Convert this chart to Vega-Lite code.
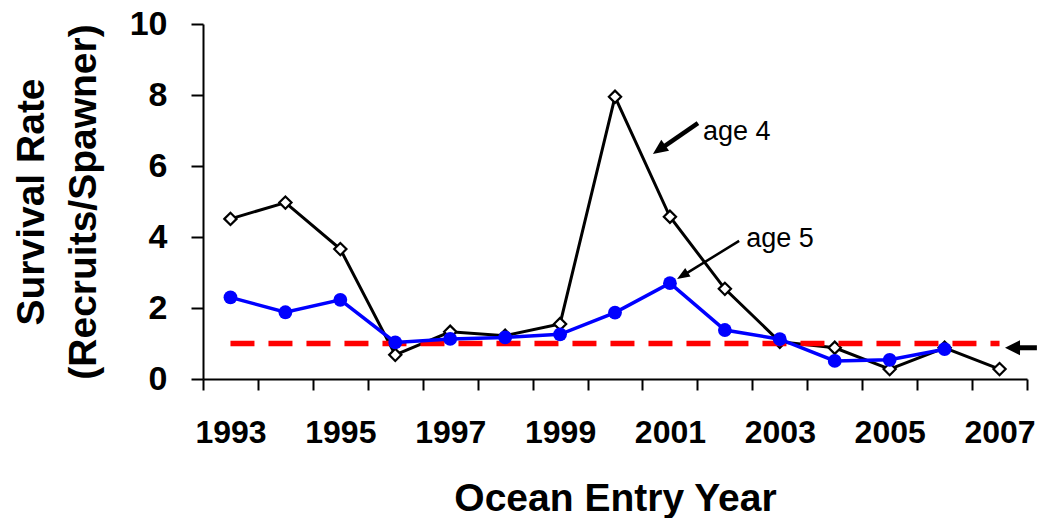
{
  "$schema": "https://vega.github.io/schema/vega-lite/v6.json",
  "autosize": {"type": "none"},
  "width": 824,
  "height": 355,
  "padding": {"left": 203, "top": 24, "right": 10, "bottom": 139},
  "background": "white",
  "config": {"view": {"stroke": null}},
  "datasets": {
    "age4": [
      {"year": 1993, "v": 4.51}, {"year": 1994, "v": 4.97}, {"year": 1995, "v": 3.66},
      {"year": 1996, "v": 0.68}, {"year": 1997, "v": 1.33}, {"year": 1998, "v": 1.22},
      {"year": 1999, "v": 1.55}, {"year": 2000, "v": 7.95}, {"year": 2001, "v": 4.57},
      {"year": 2002, "v": 2.54}, {"year": 2003, "v": 1.05}, {"year": 2004, "v": 0.88},
      {"year": 2005, "v": 0.28}, {"year": 2006, "v": 0.88}, {"year": 2007, "v": 0.28}
    ],
    "age5": [
      {"year": 1993, "v": 2.30}, {"year": 1994, "v": 1.88}, {"year": 1995, "v": 2.23},
      {"year": 1996, "v": 1.03}, {"year": 1997, "v": 1.13}, {"year": 1998, "v": 1.17},
      {"year": 1999, "v": 1.26}, {"year": 2000, "v": 1.87}, {"year": 2001, "v": 2.70},
      {"year": 2002, "v": 1.38}, {"year": 2003, "v": 1.12}, {"year": 2004, "v": 0.51},
      {"year": 2005, "v": 0.54}, {"year": 2006, "v": 0.84}
    ]
  },
  "encoding": {
    "x": {
      "field": "year", "type": "quantitative",
      "scale": {"domain": [1992.5, 2007.5], "nice": false, "zero": false},
      "axis": {
        "title": "Ocean Entry Year",
        "values": [1992.5, 1993.5, 1994.5, 1995.5, 1996.5, 1997.5, 1998.5, 1999.5, 2000.5, 2001.5, 2002.5, 2003.5, 2004.5, 2005.5, 2006.5, 2007.5],
        "labelExpr": "((datum.value + 0.5) % 2 == 1 && datum.value < 2007) ? format(datum.value + 0.5, 'd') : ''",
        "labelOffset": 27.5,
        "labelOverlap": false,
        "labelFlush": false,
        "grid": false,
        "domainColor": "black", "domainWidth": 2,
        "tickColor": "black", "tickWidth": 2, "tickSize": 11,
        "labelFont": "Liberation Sans", "labelFontSize": 32, "labelFontWeight": "bold", "labelColor": "black",
        "labelPadding": 27,
        "titleFont": "Liberation Sans", "titleFontSize": 39, "titleFontWeight": "bold", "titleColor": "black",
        "titleY": 131, "titleBaseline": "alphabetic"
      }
    },
    "y": {
      "field": "v", "type": "quantitative",
      "scale": {"domain": [0, 10], "nice": false},
      "axis": {
        "title": ["Survival Rate", "(Recruits/Spawner)"],
        "values": [0, 2, 4, 6, 8, 10],
        "grid": false,
        "domainColor": "black", "domainWidth": 2,
        "tickColor": "black", "tickWidth": 2, "tickSize": 12,
        "labelFont": "Liberation Sans", "labelFontSize": 34, "labelFontWeight": "bold", "labelColor": "black",
        "labelPadding": 24,
        "titleFont": "Liberation Sans", "titleFontSize": 39, "titleFontWeight": "bold", "titleColor": "black",
        "titleX": -172, "titleY": 177.5, "titleBaseline": "middle", "titleLineHeight": 52
      }
    }
  },
  "layer": [
    {"data": {"name": "age4"}, "mark": {"type": "line", "color": "black", "strokeWidth": 3}},
    {"data": {"name": "age4"}, "mark": {"type": "point", "shape": "diamond", "filled": true, "fill": "white", "stroke": "black", "strokeWidth": 2.2, "size": 150, "opacity": 1}},
    {"data": {"values": [{"year": 1993, "v": 1}, {"year": 2007, "v": 1}]}, "mark": {"type": "line", "color": "#FF0000", "strokeWidth": 5.5, "strokeDash": [24, 14]}},
    {"data": {"name": "age5"}, "mark": {"type": "line", "color": "#0000FF", "strokeWidth": 3.5}},
    {"data": {"name": "age5"}, "mark": {"type": "point", "shape": "circle", "filled": true, "color": "#0000FF", "size": 190, "opacity": 1}},
    {"data": {"values": [{"year": 2001.51, "v": 7.21, "year2": 2000.81, "v2": 6.46}]}, "mark": {"type": "rule", "color": "black", "strokeWidth": 4.5},
      "encoding": {"x2": {"field": "year2"}, "y2": {"field": "v2"}}},
    {"data": {"values": [{"year": 2000.69, "v": 6.34}]}, "mark": {"type": "point", "shape": "M0,0L-0.9,2L0.9,2Z", "filled": true, "color": "black", "size": 225, "angle": 235, "opacity": 1}},
    {"data": {"values": [{"year": 2002.26, "v": 3.89, "year2": 2001.24, "v2": 2.92}]}, "mark": {"type": "rule", "color": "black", "strokeWidth": 2.5},
      "encoding": {"x2": {"field": "year2"}, "y2": {"field": "v2"}}},
    {"data": {"values": [{"year": 2001.13, "v": 2.82}]}, "mark": {"type": "point", "shape": "M0,0L-0.8,2L0.8,2Z", "filled": true, "color": "black", "size": 160, "angle": 238.5, "opacity": 1}},
    {"data": {"values": [{"year": 2007.28, "v": 0.88, "year2": 2007.68}]}, "mark": {"type": "rule", "color": "black", "strokeWidth": 5},
      "encoding": {"x2": {"field": "year2"}}},
    {"data": {"values": [{"year": 2007.10, "v": 0.88}]}, "mark": {"type": "point", "shape": "M0,0L-1,2L1,2Z", "filled": true, "color": "black", "size": 225, "angle": 270, "opacity": 1}},
    {"data": {"values": [{"year": 2001.60, "v": 6.73, "label": "age 4"}, {"year": 2002.39, "v": 3.72, "label": "age 5"}]},
      "mark": {"type": "text", "align": "left", "baseline": "alphabetic", "font": "Liberation Sans", "fontSize": 27, "color": "black"},
      "encoding": {"text": {"field": "label"}}}
  ]
}
